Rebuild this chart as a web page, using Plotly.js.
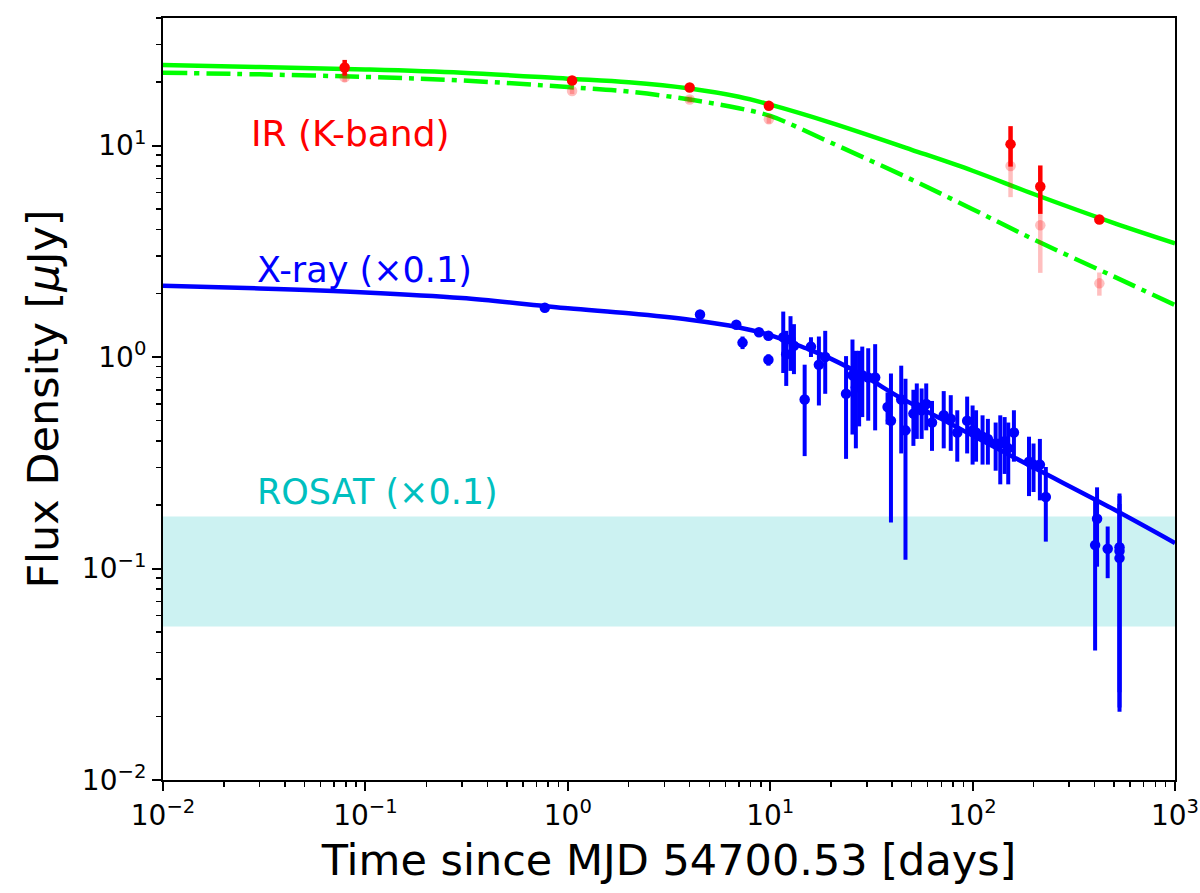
<!DOCTYPE html>
<html>
<head>
<meta charset="utf-8">
<script src="https://cdn.plot.ly/plotly-3.0.1.min.js"></script>
<style>html,body{margin:0;padding:0;background:#fff;}#chart{width:1200px;height:893px;}</style>
</head>
<body>
<div id="chart"></div>
<script>
// IR (K-band) observed points
var irT = [0.079, 1.05, 4.0, 9.85, 154, 216, 423];
var irF = [23.4, 20.3, 18.8, 15.4, 10.15, 6.4, 4.47];
var irE = [2.0, 0.5, 0.5, 0.5, 2.2, 1.65, 0.2];
// IR (K-band) pale (corrected) points
var irPaleF = [21.0, 18.1, 16.5, 13.3, 8.0, 4.2, 2.23];
var irPaleE = [1.0, 0.6, 0.6, 0.6, 2.3, 1.7, 0.28];

// model curves
var modelT = [0.01, 0.03, 0.1, 0.3, 1, 2, 4, 7, 10, 20, 50, 100, 200, 500, 1000];
var irModelSolid = [24.0, 23.5, 22.9, 22.1, 20.7, 19.9, 18.6, 17.0, 15.6, 12.8, 9.55, 7.6, 5.9, 4.3, 3.45];
var irModelDash = [22.1, 21.7, 21.1, 20.3, 18.9, 18.0, 16.5, 15.0, 13.8, 10.3, 6.9, 5.0, 3.6, 2.4, 1.76];

var xModelT = [0.01, 0.03, 0.1, 0.3, 1, 2, 4, 7, 10, 15, 20, 30, 43, 70, 100, 200, 500, 1000];
var xModelF = [2.17, 2.11, 2.02, 1.90, 1.70, 1.61, 1.50, 1.38, 1.27, 1.10, 0.98, 0.80, 0.65, 0.51, 0.425, 0.30, 0.19, 0.132];

// X-ray points (x0.1)
var xrT = [0.77, 4.5, 6.8, 7.3, 8.8, 9.8, 9.8, 11.6, 12.0, 12.6, 13.1, 14.8, 15.9, 17.4, 18.7,
  23.7, 25.5, 26.5, 27.5, 28.5, 30.5, 33, 38, 39.5, 44.4, 46.6, 51, 53, 56, 59, 63, 72, 78, 84,
  94, 100, 104, 112, 119, 130, 137, 144, 150, 160, 190, 200, 215, 230, 403, 412, 465, 532, 532, 532];
var xrF = [1.71, 1.59, 1.42, 1.17, 1.31, 1.26, 0.97, 1.24, 1.03, 1.21, 1.13, 0.63, 1.12, 0.92, 1.0,
  0.67, 0.82, 0.72, 0.77, 0.82, 0.80, 0.80, 0.58, 0.50, 0.63, 0.45, 0.54, 0.58, 0.56, 0.60, 0.49, 0.53, 0.51, 0.44,
  0.50, 0.45, 0.44, 0.42, 0.41, 0.39, 0.39, 0.40, 0.37, 0.44, 0.32, 0.31, 0.31, 0.218, 0.129, 0.172, 0.124, 0.126, 0.121, 0.112];
var xrE = [0.03, 0.04, 0.04, 0.08, 0.05, 0.05, 0.06, 0.4, 0.3, 0.35, 0.3, 0.29, 0.12, 0.33, 0.33,
  0.34, 0.39, 0.35, 0.3, 0.3, 0.3, 0.35, 0.1, 0.335, 0.28, 0.34, 0.16, 0.17, 0.15, 0.15, 0.13, 0.16, 0.15, 0.12,
  0.15, 0.14, 0.12, 0.11, 0.10, 0.10, 0.14, 0.12, 0.12, 0.12, 0.10, 0.08, 0.10, 0.084, 0.088, 0.07, 0.034, 0.1, 0.1, 0.09];

// ROSAT band (x0.1)
var rosatT = [0.01, 1000];
var rosatLo = 0.0532;
var rosatHi = 0.176;

// tick labels
var xTickVals = [0.01, 0.1, 1, 10, 100, 1000];
var xTickText = ['10<sup>−2</sup>', '10<sup>−1</sup>', '10<sup>0</sup>', '10<sup>1</sup>', '10<sup>2</sup>', '10<sup>3</sup>'];
var yTickVals = [0.01, 0.1, 1, 10];
var yTickText = ['10<sup>−2</sup>', '10<sup>−1</sup>', '10<sup>0</sup>', '10<sup>1</sup>'];

function minorTicks(decades) {
  var out = [];
  decades.forEach(function (d) { for (var m = 2; m <= 9; m++) out.push(d * m); });
  return out;
}

var FONT = 'DejaVu Sans, Liberation Sans, sans-serif';

var traces = [
  {x: [rosatT[0], rosatT[1], rosatT[1], rosatT[0]], y: [rosatLo, rosatLo, rosatHi, rosatHi],
   type: 'scatter', mode: 'lines', fill: 'toself', fillcolor: '#ccf2f2', line: {width: 0, color: 'rgba(0,0,0,0)'}},
  {x: xModelT, y: xModelF, type: 'scatter', mode: 'lines', line: {color: '#0000ff', width: 4.5, shape: 'spline'}},
  {x: xrT, y: xrF, type: 'scatter', mode: 'markers', marker: {color: '#0000ff', size: 10.5},
   error_y: {type: 'data', array: xrE, visible: true, color: '#0000ff', thickness: 4, width: 0}},
  {x: modelT, y: irModelSolid, type: 'scatter', mode: 'lines', line: {color: '#00ff00', width: 4.5, shape: 'spline'}},
  {x: modelT, y: irModelDash, type: 'scatter', mode: 'lines', line: {color: '#00ff00', width: 4.5, dash: '24px,7px,5px,7px', shape: 'spline'}},
  {x: irT, y: irF, type: 'scatter', mode: 'markers', marker: {color: '#ff0000', size: 10.5},
   error_y: {type: 'data', array: irE, visible: true, color: '#ff0000', thickness: 4.5, width: 0}},
  {x: irT, y: irPaleF, type: 'scatter', mode: 'markers', marker: {color: 'rgba(255,0,0,0.25)', size: 10.5},
   error_y: {type: 'data', array: irPaleE, visible: true, color: 'rgba(255,0,0,0.25)', thickness: 4.5, width: 0}}
];

function axis(vals, text, minorVals) {
  return {
    type: 'log', showgrid: false, zeroline: false,
    showline: true, linecolor: 'black', linewidth: 2, mirror: true,
    ticks: 'outside', ticklen: 9, tickwidth: 2, tickcolor: 'black',
    tickmode: 'array', tickvals: vals, ticktext: text,
    tickfont: {family: FONT, size: 28, color: 'black'},
    minor: {ticks: 'outside', ticklen: 5, tickwidth: 1.5, tickcolor: 'black',
            tickmode: 'array', tickvals: minorVals, showgrid: false}
  };
}

var layout = {
  width: 1200, height: 893,
  margin: {l: 163, r: 25, t: 18, b: 113},
  paper_bgcolor: 'white', plot_bgcolor: 'white',
  showlegend: false, hovermode: false,
  xaxis: Object.assign(axis(xTickVals, xTickText, minorTicks([0.01, 0.1, 1, 10, 100])), {
    range: [-2, 3],
    title: {text: 'Time since MJD 54700.53 [days]', font: {family: FONT, size: 43, color: 'black'}, standoff: 14}
  }),
  yaxis: Object.assign(axis(yTickVals, yTickText, minorTicks([0.01, 0.1, 1, 10])), {
    range: [-2, 1.603],
    title: {text: 'Flux Density [<i>μ</i>Jy]', font: {family: FONT, size: 43, color: 'black'}, standoff: 10}
  }),
  annotations: [
    {text: 'IR (K-band)', xref: 'paper', yref: 'paper', x: 0.085, y: 0.848, xanchor: 'left', yanchor: 'middle',
     showarrow: false, font: {family: FONT, size: 36, color: '#ff0000'}},
    {text: 'X-ray (×0.1)', xref: 'paper', yref: 'paper', x: 0.091, y: 0.669, xanchor: 'left', yanchor: 'middle',
     showarrow: false, font: {family: FONT, size: 35, color: '#0000ff'}},
    {text: 'ROSAT (×0.1)', xref: 'paper', yref: 'paper', x: 0.091, y: 0.378, xanchor: 'left', yanchor: 'middle',
     showarrow: false, font: {family: FONT, size: 35, color: '#00bfbf'}}
  ]
};

Plotly.newPlot('chart', traces, layout, {staticPlot: true, displayModeBar: false});
</script>
</body>
</html>
